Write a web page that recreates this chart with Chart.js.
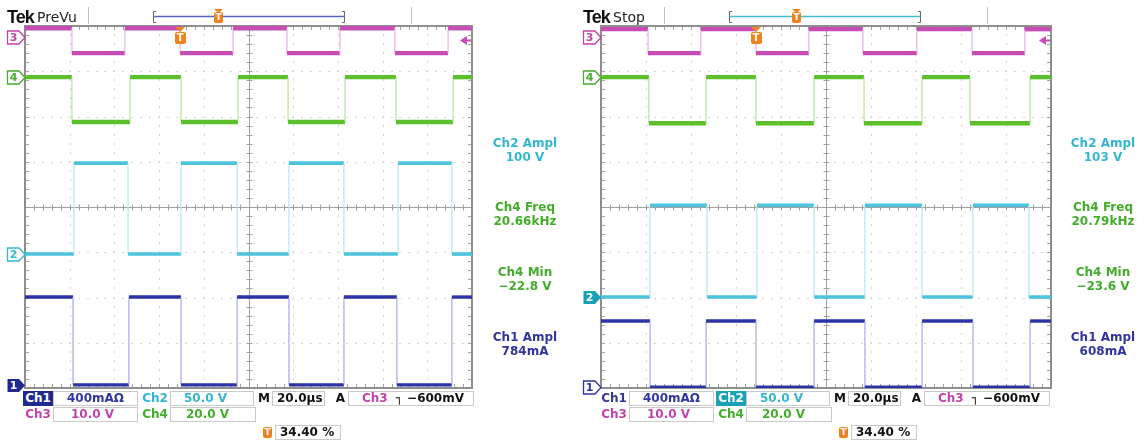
<!DOCTYPE html>
<html><head><meta charset="utf-8">
<script src="https://cdn.jsdelivr.net/npm/chart.js@4.4.1/dist/chart.umd.min.js"></script>
<style>
html,body{margin:0;padding:0;background:#fff;}
body{width:1146px;height:445px;position:relative;overflow:hidden;font-family:"DejaVu Sans",sans-serif;}
.panel{position:absolute;top:0;height:445px;}
.panel canvas{position:absolute;left:0;top:0;}
.t{position:absolute;white-space:nowrap;line-height:1;}
.box{position:absolute;box-sizing:border-box;border:1px solid #c9c9c9;height:15px;font:bold 12px "DejaVu Sans";line-height:13px;white-space:nowrap;background:#fff;}
.lbl{position:absolute;box-sizing:border-box;height:15px;font:bold 12px "DejaVu Sans";line-height:15px;white-space:nowrap;text-align:center;}
.meas{position:absolute;width:120px;text-align:center;font:bold 12px "DejaVu Sans";line-height:14px;}
.tag{position:absolute;font:bold 11px "DejaVu Sans";width:13px;height:13px;line-height:13px;text-align:center;}
.otag{position:absolute;background:#f0821e;color:#fff;font:bold 9px "DejaVu Sans";text-align:center;border-radius:2px;}
</style></head><body>
<div id="p0" class="panel" style="left:0;width:576px"><canvas id="c0" width="576" height="445"></canvas></div>
<div id="p1" class="panel" style="left:576px;width:570px"><canvas id="c1" width="570" height="445"></canvas></div>
<script>
// ================= DATA =================
const timeAxis = [-100, 100];          // µs (20 µs/div, 10 div)
const divAxis = [-4, 4];               // vertical divisions (8 div)

const panelTitles = ['PreVu', 'Stop'];

// --- Left capture (PreVu): edge times (µs), levels [start, alternate] (div)
const L_ch3Edges = [-79.0, -55.3, -30.6, -6.9, 17.2, 40.9, 65.5, 89.3];
const L_ch3Levels = [3.95, 3.40];
const L_ch4Edges = [-79.0, -53.0, -30.2, -4.7, 17.7, 43.2, 66.0, 91.5];
const L_ch4Levels = [2.87, 1.88];
const L_ch2Edges = [-78.1, -53.9, -30.2, -5.1, 18.1, 42.7, 66.9, 91.0];
const L_ch2Levels = [-1.04, 0.97];
const L_ch1Edges = [-78.5, -53.5, -30.2, -5.1, 18.1, 42.7, 66.4, 91.0];
const L_ch1Levels = [-1.99, -3.93];
const L_offsets = [-3.93, -1.04, 3.76, 2.87];      // ch1..ch4 ground markers (div)
const L_trigger = -30.6;                          // µs
const L_measureNames = ['Ch2 Ampl', 'Ch4 Freq', 'Ch4 Min', 'Ch1 Ampl'];
const L_measureValues = ['100 V', '20.66kHz', '\u221222.8 V', '784mA'];

// --- Right capture (Stop)
const R_ch3Edges = [-79.1, -55.6, -31.1, -7.6, 16.4, 40.4, 64.9, 88.4];
const R_ch3Levels = [3.93, 3.40];
const R_ch4Edges = [-78.7, -53.3, -31.1, -5.3, 16.9, 42.7, 64.0, 90.7];
const R_ch4Levels = [2.87, 1.85];
const R_ch2Edges = [-78.2, -52.9, -30.7, -5.3, 17.3, 42.7, 65.3, 90.2];
const R_ch2Levels = [-1.99, 0.04];
const R_ch1Edges = [-78.2, -53.3, -31.1, -5.3, 17.3, 42.7, 65.3, 90.7];
const R_ch1Levels = [-2.52, -3.98];
const R_offsets = [-3.98, -1.99, 3.76, 2.87];
const R_trigger = -31.1;
const R_measureNames = ['Ch2 Ampl', 'Ch4 Freq', 'Ch4 Min', 'Ch1 Ampl'];
const R_measureValues = ['103 V', '20.79kHz', '\u221223.6 V', '608mA'];

// Settings readout (shared)
const scaleLabels = ['400mA\u03A9', '50.0 V', '10.0 V', '20.0 V'];  // ch1, ch2, ch3, ch4
const timebaseLabel = '20.0\u00B5s';
const triggerLevelLabel = '\u2510 \u2212600mV';
const triggerLevelDiv = -0.06;   // -600 mV at 10 V/div on Ch3
const triggerPosLabel = '34.40 %';

// ================= STYLE =================
const COLORS = {ch1:'#2b33a6', ch2:'#4cc4dd', ch3:'#c64cb6', ch4:'#5cbf2c'};
const EDGE   = {ch1:'#a6a9ec', ch2:'#b3e7f3', ch3:'#e8b0e2', ch4:'#b4e39a'};
const TXT    = {ch1:'#31359f', ch2:'#35b6d0', ch3:'#c042ac', ch4:'#43ac2b'};
const WIDTH  = {ch1:3.4, ch2:3.6, ch3:4.4, ch4:4.4};

function stepPoints(edges, levels){
  const pts = [{x: timeAxis[0], y: levels[0]}];
  let k = 0;
  edges.forEach(e => { pts.push({x:e, y:levels[k]}); k = 1-k; pts.push({x:e, y:levels[k]}); });
  pts.push({x: timeAxis[1], y: levels[k]});
  return pts;
}

const panels = [
  {title: panelTitles[0], W:576, plotRight:472, measX:525, lineColor:'#5a64c6', filled:'ch1', tOrangeX:214,
   edges:{ch1:L_ch1Edges, ch2:L_ch2Edges, ch3:L_ch3Edges, ch4:L_ch4Edges},
   levels:{ch1:L_ch1Levels, ch2:L_ch2Levels, ch3:L_ch3Levels, ch4:L_ch4Levels},
   offsets:L_offsets, trigger:L_trigger, names:L_measureNames, values:L_measureValues},
  {title: panelTitles[1], W:570, plotRight:475, measX:527, lineColor:'#48bcd4', filled:'ch2', tOrangeX:216,
   edges:{ch1:R_ch1Edges, ch2:R_ch2Edges, ch3:R_ch3Edges, ch4:R_ch4Edges},
   levels:{ch1:R_ch1Levels, ch2:R_ch2Levels, ch3:R_ch3Levels, ch4:R_ch4Levels},
   offsets:R_offsets, trigger:R_trigger, names:R_measureNames, values:R_measureValues}
];

function el(parent, cls, css, text){
  const d = document.createElement('div');
  d.className = cls; Object.assign(d.style, css);
  if (text !== undefined) d.textContent = text;
  parent.appendChild(d); return d;
}

function drawTag(ctx, xl, yc, color, filled){
  const w = 19, h = 13;
  ctx.beginPath();
  ctx.moveTo(xl+1.5, yc-h/2); ctx.lineTo(xl+w-6, yc-h/2); ctx.lineTo(xl+w, yc);
  ctx.lineTo(xl+w-6, yc+h/2); ctx.lineTo(xl+1.5, yc+h/2); ctx.closePath();
  if (filled){ ctx.fillStyle = color; ctx.fill(); }
  else { ctx.fillStyle = '#fff'; ctx.fill(); ctx.strokeStyle = color; ctx.lineWidth = 1.3; ctx.stroke(); }
}

function makePlugin(p){
  return {
    id: 'scopeDeco',
    beforeDatasetsDraw(chart){
      const {ctx, chartArea:a, scales:{x, y}} = chart;
      ctx.save();
      // dotted graticule
      ctx.fillStyle = '#d2d2d2';
      for (let i = 1; i < 10; i++){
        if (i === 5) continue;
        const px = Math.round(x.getPixelForValue(timeAxis[0] + i*20));
        for (let j = 1; j < 40; j++){ const py = y.getPixelForValue(divAxis[0] + j*0.2); ctx.fillRect(px, Math.round(py)-1, 1, 2); }
      }
      for (let j = 1; j < 8; j++){
        if (j === 4) continue;
        const py = Math.round(y.getPixelForValue(divAxis[0] + j));
        for (let i = 1; i < 50; i++){ const px = x.getPixelForValue(timeAxis[0] + i*4); ctx.fillRect(Math.round(px)-1, py, 2, 1); }
      }
      // centre crosshair with minor ticks
      const cx = Math.round(x.getPixelForValue(0)) + 0.5, cy = Math.round(y.getPixelForValue(0)) + 0.5;
      ctx.strokeStyle = '#a0a0a0'; ctx.lineWidth = 1;
      ctx.beginPath();
      ctx.moveTo(a.left, cy); ctx.lineTo(a.right, cy);
      ctx.moveTo(cx, a.top); ctx.lineTo(cx, a.bottom);
      for (let i = 1; i < 50; i++){
        const px = Math.round(x.getPixelForValue(timeAxis[0] + i*4)) + 0.5;
        ctx.moveTo(px, cy-3); ctx.lineTo(px, cy+3);
        ctx.moveTo(px, a.top); ctx.lineTo(px, a.top+4);
        ctx.moveTo(px, a.bottom); ctx.lineTo(px, a.bottom-4);
      }
      for (let j = 1; j < 40; j++){
        const py = Math.round(y.getPixelForValue(divAxis[0] + j*0.2)) + 0.5;
        ctx.moveTo(cx-3, py); ctx.lineTo(cx+3, py);
        ctx.moveTo(a.left, py); ctx.lineTo(a.left+4, py);
        ctx.moveTo(a.right, py); ctx.lineTo(a.right-4, py);
      }
      ctx.stroke();
      ctx.lineWidth = 2; ctx.strokeStyle = '#8e8e8e';
      ctx.strokeRect(a.left, a.top, a.right-a.left, a.bottom-a.top);
      ctx.restore();
    },
    afterDraw(chart){
      const {ctx, chartArea:a, scales:{x, y}} = chart;
      ctx.save();
      // header separators and record bracket
      ctx.strokeStyle = '#c4c4c4'; ctx.lineWidth = 1;
      ctx.beginPath(); ctx.moveTo(88.5, 7); ctx.lineTo(88.5, 24); ctx.moveTo(411.5, 7); ctx.lineTo(411.5, 24); ctx.stroke();
      ctx.strokeStyle = '#6a6a6a';
      ctx.beginPath();
      ctx.moveTo(156, 11.5); ctx.lineTo(153.5, 11.5); ctx.lineTo(153.5, 22.5); ctx.lineTo(156, 22.5);
      ctx.moveTo(342, 11.5); ctx.lineTo(344.5, 11.5); ctx.lineTo(344.5, 22.5); ctx.lineTo(342, 22.5);
      ctx.stroke();
      ctx.strokeStyle = p.lineColor; ctx.lineWidth = 1.5;
      ctx.beginPath(); ctx.moveTo(154, 16.5); ctx.lineTo(344, 16.5); ctx.stroke();
      // channel ground markers
      const chs = ['ch1','ch2','ch3','ch4'];
      chs.forEach((ch, i) => {
        const yc = Math.round(y.getPixelForValue(p.offsets[i])) + 0.5;
        drawTag(ctx, a.left - 19, yc, ch === 'ch2' && p.filled === 'ch2' ? '#17a3b5' : (ch==='ch1' && p.filled==='ch1' ? '#1f2a8e' : TXT[ch]), p.filled === ch);
      });
      // trigger level arrow (Ch3)
      const ty = Math.round(y.getPixelForValue(p.offsets[2] + triggerLevelDiv)) + 0.5;
      ctx.fillStyle = COLORS.ch3; ctx.strokeStyle = COLORS.ch3; ctx.lineWidth = 2;
      ctx.beginPath(); ctx.moveTo(a.right-12, ty); ctx.lineTo(a.right-5, ty-4.5); ctx.lineTo(a.right-5, ty+4.5); ctx.closePath(); ctx.fill();
      ctx.beginPath(); ctx.moveTo(a.right-5, ty); ctx.lineTo(a.right-1, ty); ctx.stroke();
      // trigger position triangle
      const tx = x.getPixelForValue(p.trigger);
      ctx.fillStyle = '#f0821e';
      ctx.beginPath(); ctx.moveTo(tx-5, a.top+1); ctx.lineTo(tx+5, a.top+1); ctx.lineTo(tx, a.top+6); ctx.closePath(); ctx.fill();
      ctx.beginPath(); ctx.moveTo(p.tOrangeX, 9); ctx.lineTo(p.tOrangeX+9, 9); ctx.lineTo(p.tOrangeX+4.5, 13); ctx.closePath(); ctx.fill();
      ctx.restore();
    }
  };
}

panels.forEach((p, idx) => {
  const root = document.getElementById('p'+idx);
  const canvas = document.getElementById('c'+idx);
  const order = ['ch3','ch4','ch2','ch1'];
  const datasets = order.map(ch => ({
    label: ch,
    data: stepPoints(p.edges[ch], p.levels[ch]),
    borderColor: COLORS[ch],
    borderWidth: WIDTH[ch],
    pointRadius: 0, fill: false, tension: 0,
    borderCapStyle: 'butt', borderJoinStyle: 'miter',
    segment: {
      borderWidth: c => Math.abs(c.p0.x - c.p1.x) < 0.5 ? 1.2 : undefined,
      borderColor: c => Math.abs(c.p0.x - c.p1.x) < 0.5 ? EDGE[ch] : undefined
    }
  }));
  const chart = new Chart(canvas, {
    type: 'line',
    data: {datasets},
    options: {
      responsive: false, animation: false, devicePixelRatio: 1, events: [],
      layout: {padding: {left: 25, top: 26, right: p.W - p.plotRight, bottom: 57}},
      plugins: {legend: {display: false}, tooltip: {enabled: false}},
      scales: {
        x: {type: 'linear', min: timeAxis[0], max: timeAxis[1], display: false},
        y: {type: 'linear', min: divAxis[0], max: divAxis[1], display: false}
      }
    },
    plugins: [makePlugin(p)]
  });

  const xs = chart.scales.x, ys = chart.scales.y, a = chart.chartArea;
  // header
  el(root, 't', {left:'7px', top:'7px', font:'bold 18px "Liberation Sans", "DejaVu Sans", sans-serif', color:'#111', letterSpacing:'-1px'}, 'Tek');
  el(root, 't', {left:'37px', top:'9px', font:'14px "DejaVu Sans"', color:'#222'}, p.title);
  el(root, 'otag', {left:p.tOrangeX+'px', top:'12px', width:'9px', height:'11px', lineHeight:'11px'}, 'T');
  // trigger position tag in plot
  const tx = xs.getPixelForValue(p.trigger);
  el(root, 'otag', {left:(tx-5.5)+'px', top:(a.top+6)+'px', width:'11px', height:'12px', lineHeight:'12px', fontSize:'10px'}, 'T');
  // channel ground markers digits
  ['1','2','3','4'].forEach((d, i) => {
    const ch = 'ch'+d;
    const yc = Math.round(ys.getPixelForValue(p.offsets[i])) + 0.5;
    el(root, 'tag', {left:(a.left-18)+'px', top:(yc-6.5)+'px', color: p.filled === ch ? '#fff' : TXT[ch]}, d);
  });
  // measurements
  const mCols = [TXT.ch2, TXT.ch4, TXT.ch4, TXT.ch1];
  const mY = [136, 200, 265, 330];
  p.names.forEach((n, i) => {
    el(root, 'meas', {left:(p.measX-60)+'px', top:mY[i]+'px', color:mCols[i]}, n);
    el(root, 'meas', {left:(p.measX-60)+'px', top:(mY[i]+14)+'px', color:mCols[i]}, p.values[i]);
  });
  // settings readout
  const r1 = 391, r2 = 407, r3 = 425;
  el(root, 'lbl', {left:'23px', top:r1+'px', width:'30px', color: p.filled==='ch1' ? '#fff' : TXT.ch1, background: p.filled==='ch1' ? '#1f2a8e' : 'transparent'}, 'Ch1');
  el(root, 'box', {left:'53px', top:r1+'px', width:'85px', color:TXT.ch1, paddingLeft:'13px'}, scaleLabels[0]);
  el(root, 'lbl', {left:'140px', top:r1+'px', width:'30px', color: p.filled==='ch2' ? '#fff' : TXT.ch2, background: p.filled==='ch2' ? '#17a3b5' : 'transparent'}, 'Ch2');
  el(root, 'box', {left:'170px', top:r1+'px', width:'84px', color:TXT.ch2, paddingLeft:'13px'}, scaleLabels[1]);
  el(root, 'lbl', {left:'256px', top:r1+'px', width:'16px', color:'#111'}, 'M');
  el(root, 'box', {left:'272px', top:r1+'px', width:'53px', color:'#111', paddingLeft:'4px'}, timebaseLabel);
  el(root, 'lbl', {left:'333px', top:r1+'px', width:'15px', color:'#111'}, 'A');
  const tb = el(root, 'box', {left:'348px', top:r1+'px', width:'126px', color:'#111', paddingLeft:'13px'}, '');
  const s1 = document.createElement('span'); s1.style.color = TXT.ch3; s1.textContent = 'Ch3'; tb.appendChild(s1);
  const s2 = document.createElement('span'); s2.style.marginLeft = '8px'; s2.textContent = triggerLevelLabel; tb.appendChild(s2);
  el(root, 'lbl', {left:'23px', top:r2+'px', width:'30px', color:TXT.ch3}, 'Ch3');
  el(root, 'box', {left:'53px', top:r2+'px', width:'85px', color:TXT.ch3, paddingLeft:'17px'}, scaleLabels[2]);
  el(root, 'lbl', {left:'140px', top:r2+'px', width:'30px', color:TXT.ch4}, 'Ch4');
  el(root, 'box', {left:'170px', top:r2+'px', width:'86px', color:TXT.ch4, paddingLeft:'15px'}, scaleLabels[3]);
  el(root, 'otag', {left:'263px', top:(r3+2)+'px', width:'9px', height:'11px', lineHeight:'11px'}, 'T');
  el(root, 'box', {left:'275px', top:r3+'px', width:'66px', color:'#111', paddingLeft:'4px'}, triggerPosLabel);
});
</script>
</body></html>
